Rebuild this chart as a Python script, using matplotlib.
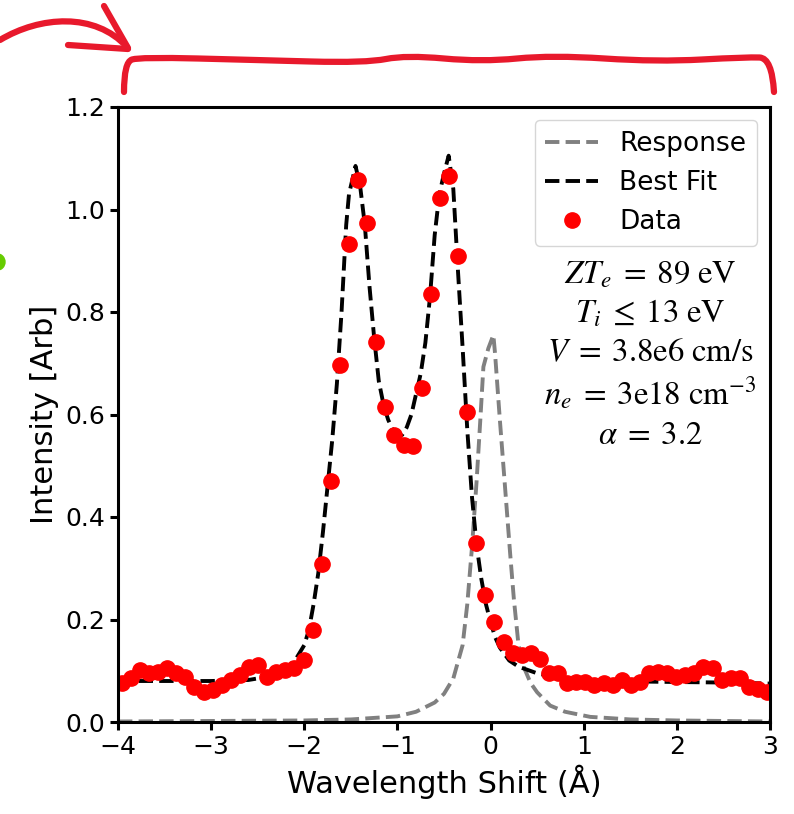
import matplotlib
matplotlib.use("Agg")
import matplotlib.pyplot as plt
from matplotlib.lines import Line2D
from matplotlib.patches import PathPatch, Circle
from matplotlib.path import Path

# measured spectrum (red dots)
data_x = [-3.960, -3.862, -3.765, -3.667, -3.570, -3.472, -3.374, -3.277, -3.179, -3.082,
          -2.984, -2.886, -2.789, -2.691, -2.594, -2.496, -2.398, -2.301, -2.203, -2.106,
          -2.008, -1.910, -1.813, -1.715, -1.618, -1.520, -1.422, -1.325, -1.227, -1.130,
          -1.032, -0.934, -0.837, -0.739, -0.642, -0.544, -0.446, -0.349, -0.251, -0.154,
          -0.056, 0.042, 0.139, 0.237, 0.334, 0.432, 0.530, 0.627, 0.725, 0.822,
          0.920, 1.018, 1.115, 1.213, 1.310, 1.408, 1.506, 1.603, 1.701, 1.798,
          1.896, 1.994, 2.091, 2.189, 2.286, 2.384, 2.482, 2.579, 2.677, 2.774,
          2.872, 2.970]
data_y = [0.076, 0.085, 0.101, 0.095, 0.098, 0.105, 0.095, 0.088, 0.069, 0.059,
          0.062, 0.072, 0.082, 0.092, 0.108, 0.111, 0.088, 0.098, 0.101, 0.105,
          0.121, 0.180, 0.308, 0.470, 0.697, 0.932, 1.058, 0.974, 0.742, 0.615,
          0.560, 0.540, 0.539, 0.651, 0.836, 1.022, 1.065, 0.909, 0.604, 0.349,
          0.248, 0.195, 0.157, 0.134, 0.131, 0.134, 0.122, 0.095, 0.096, 0.076,
          0.079, 0.079, 0.072, 0.076, 0.072, 0.082, 0.072, 0.079, 0.095, 0.098,
          0.095, 0.088, 0.092, 0.095, 0.108, 0.105, 0.082, 0.085, 0.085, 0.069,
          0.064, 0.059]

# best fit (black dashed)
fit_x = [-4.0, -3.5, -3.0, -2.6, -2.4, -2.3, -2.2, -2.1, -2.0, -1.95,
         -1.9, -1.85, -1.8, -1.75, -1.7, -1.65, -1.6, -1.55, -1.52, -1.45,
         -1.4, -1.35, -1.3, -1.25, -1.2, -1.15, -1.1, -1.05, -1.0, -0.95,
         -0.9, -0.85, -0.8, -0.75, -0.7, -0.65, -0.6, -0.55, -0.5, -0.45,
         -0.4, -0.35, -0.3, -0.25, -0.2, -0.15, -0.1, -0.05, 0.0, 0.05,
         0.1, 0.2, 0.3, 0.5, 0.7, 0.9, 1.2, 1.6, 2.0, 2.5, 3.0]
fit_y = [0.080, 0.080, 0.080, 0.082, 0.088, 0.095, 0.105, 0.120, 0.150, 0.180,
         0.230, 0.290, 0.370, 0.460, 0.550, 0.660, 0.800, 0.970, 1.030, 1.085,
         1.045, 0.970, 0.850, 0.750, 0.665, 0.620, 0.590, 0.570, 0.562, 0.560,
         0.575, 0.600, 0.640, 0.680, 0.740, 0.830, 0.950, 1.030, 1.070, 1.105,
         1.040, 0.880, 0.730, 0.570, 0.440, 0.345, 0.280, 0.230, 0.195, 0.165,
         0.145, 0.120, 0.108, 0.095, 0.087, 0.082, 0.080, 0.079, 0.078, 0.077, 0.075]

# instrument response (gray dashed)
resp_x = [-4.0, -3.0, -2.0, -1.5, -1.0, -0.8, -0.6, -0.5, -0.4, -0.3,
          -0.25, -0.2, -0.15, -0.11, -0.077, -0.024, 0.03, 0.048, 0.1, 0.155,
          0.21, 0.25, 0.3, 0.35, 0.43, 0.5, 0.64, 0.8, 1.07, 1.5, 2.0, 3.0]
resp_y = [0.001, 0.002, 0.003, 0.005, 0.011, 0.020, 0.038, 0.055, 0.085, 0.150,
          0.230, 0.340, 0.470, 0.590, 0.693, 0.729, 0.755, 0.719, 0.589, 0.459,
          0.329, 0.240, 0.150, 0.110, 0.076, 0.058, 0.032, 0.020, 0.010, 0.005, 0.003, 0.001]

fit_text = ("$ZT_e \\;=\\; 89\\ \\mathrm{eV}$\n"
            "$T_i \\;\\leq\\; 13\\ \\mathrm{eV}$\n"
            "$V \\;=\\; 3.8\\mathrm{e}6\\ \\mathrm{cm/s}$\n"
            "$n_e \\;=\\; 3\\mathrm{e}18\\ \\mathrm{cm}^{-3}$\n"
            "$\\alpha \\;=\\; 3.2$")

W, H = 794, 814
plt.rcParams["mathtext.fontset"] = "stix"

fig = plt.figure(figsize=(W / 100, H / 100), dpi=100)
ax = fig.add_axes([118 / W, 1 - 722 / H, (770 - 118) / W, (722 - 107) / H])

ax.plot(resp_x, resp_y, "--", color="gray", lw=2.8, label="Response")
ax.plot(fit_x, fit_y, "--", color="black", lw=2.8, label="Best Fit")
ax.plot(data_x, data_y, "o", color="red", ms=11, label="Data")

ax.set_xlim(-4, 3)
ax.set_ylim(0, 1.2)
ax.set_yticks([0.0, 0.2, 0.4, 0.6, 0.8, 1.0, 1.2])
ax.set_xlabel("Wavelength Shift (Å)", fontsize=22)
ax.set_ylabel("Intensity [Arb]", fontsize=22)
ax.tick_params(labelsize=18, width=2.2, length=6)
for sp in ax.spines.values():
    sp.set_linewidth(2.2)

ax.legend(loc="upper right", fontsize=19)
ax.text(0.816, 0.755, fit_text, transform=ax.transAxes, ha="center", va="top",
        fontsize=23.5, linespacing=1.22)

# hand-drawn markup over the figure (pixel coords -> figure fraction)
def fx(p):
    return [(x / W, 1 - y / H) for x, y in p]

def smooth_path(pts):
    # quadratic spline through the midpoints of the control polygon
    verts = [pts[0]]
    codes = [Path.MOVETO]
    for i in range(1, len(pts) - 1):
        mid = ((pts[i][0] + pts[i + 1][0]) / 2, (pts[i][1] + pts[i + 1][1]) / 2)
        if i == len(pts) - 2:
            mid = pts[-1]
        verts += [pts[i], mid]
        codes += [Path.CURVE3, Path.CURVE3]
    return Path(verts, codes)

red = "#e8192c"
stroke = dict(transform=fig.transFigure, fill=False, edgecolor=red, lw=4.5,
              capstyle="round", joinstyle="round")

bracket = fx([(124, 92), (124, 62), (140, 57), (256, 60), (366, 63), (406, 55),
              (482, 62), (552, 55), (657, 62), (747, 57), (772, 58), (774, 92)])
fig.add_artist(PathPatch(smooth_path(bracket), **stroke))

arrow = fx([(0, 40), (40, 16), (95, 12), (127, 47)])
fig.add_artist(PathPatch(Path(arrow, [Path.MOVETO, Path.CURVE4, Path.CURVE4, Path.CURVE4]),
                         **stroke))
for seg in ([(104, 6), (128, 48)], [(68, 45), (128, 49)]):
    sx, sy = zip(*fx(seg))
    fig.add_artist(Line2D(sx, sy, transform=fig.transFigure, color=red, lw=4.5,
                          solid_capstyle="round"))

fig.add_artist(Circle((-3 / W, 1 - 262 / H), 8 / W, transform=fig.transFigure,
                      color="#66cc00"))

fig.savefig("out.png", dpi=100)
